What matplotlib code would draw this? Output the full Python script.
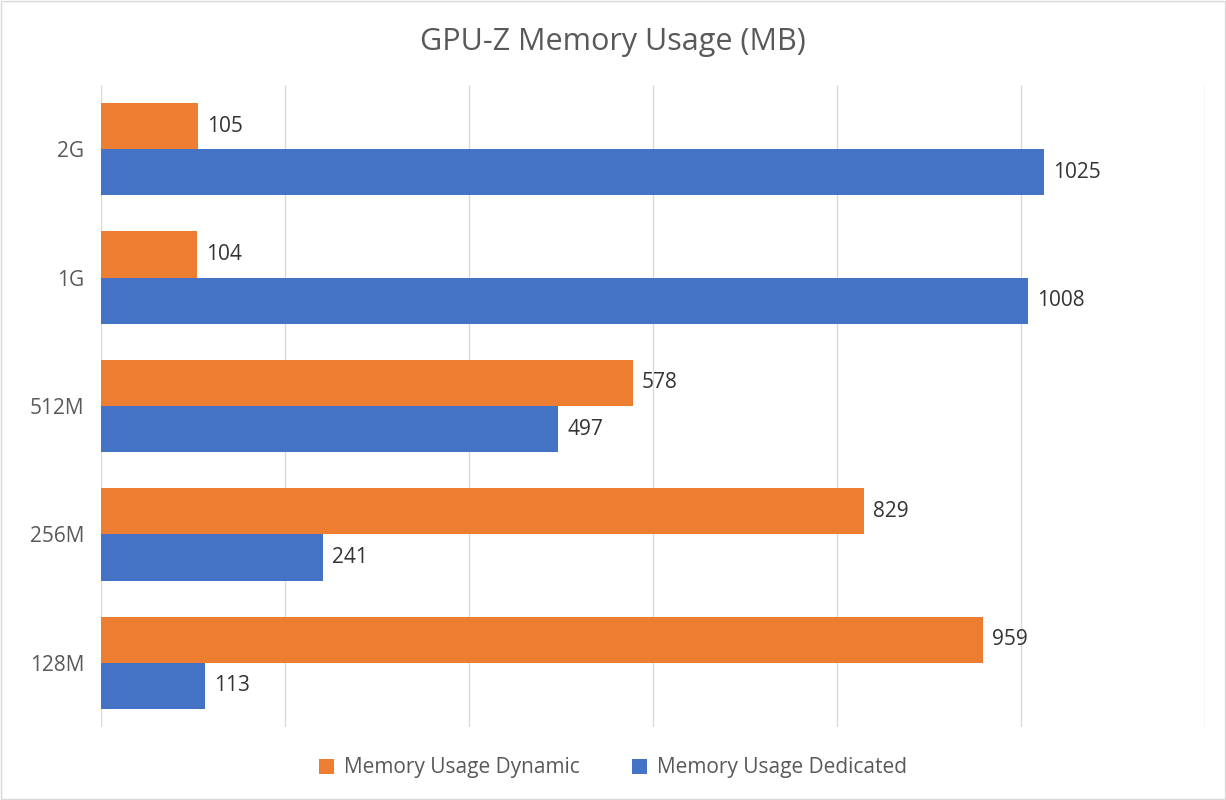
import matplotlib
matplotlib.use("Agg")
import matplotlib.pyplot as plt
import numpy as np

categories = ["128M", "256M", "512M", "1G", "2G"]
dynamic = [959, 829, 578, 104, 105]
dedicated = [113, 241, 497, 1008, 1025]
x_ticks = [0, 200, 400, 600, 800, 1000, 1200]

plt.rcParams["font.family"] = "Open Sans"
fig = plt.figure(figsize=(12.26, 8.0), dpi=100)
ax = fig.add_axes([101/1226, 1-727/800, (1205-101)/1226, (727-85)/800])

y = np.arange(len(categories))
h = 0.36
orange = "#ED7D31"
blue = "#4472C4"
b1 = ax.barh(y + h/2, dynamic, height=h, color=orange, label="Memory Usage Dynamic")
b2 = ax.barh(y - h/2, dedicated, height=h, color=blue, label="Memory Usage Dedicated")
for bars, vals in ((b1, dynamic), (b2, dedicated)):
    for b, v in zip(bars, vals):
        ax.text(b.get_width() + 10, b.get_y() + b.get_height()/2, str(v),
                va="center", ha="left", fontsize=15, color="#333333")

ax.set_xlim(0, 1200)
ax.set_ylim(-0.5, len(categories) - 0.5)
ax.set_xticks(x_ticks)
ax.set_xticklabels([])
ax.tick_params(axis="x", length=0)
ax.set_yticks(y)
ax.set_yticklabels(categories, fontsize=15, color="#595959")
ax.tick_params(axis="y", length=0, pad=12)
ax.grid(axis="x", color="#D9D9D9", linewidth=1)
ax.set_axisbelow(True)
for s in ax.spines.values():
    s.set_visible(False)

fig.text(0.5, 1-42/800, "GPU-Z Memory Usage (MB)", ha="center", va="center",
         fontsize=22, color="#595959")
handles = [b1, b2]
fig.legend(handles, [h_.get_label() for h_ in handles], loc="center",
           bbox_to_anchor=(0.5, 1-768/800), ncol=2, frameon=False,
           fontsize=15, handlelength=0.7, handleheight=0.7, columnspacing=2.5,
           handletextpad=0.5, labelcolor="#595959")
fig.patches.append(plt.Rectangle((0.001, 0.001), 0.998, 0.998, transform=fig.transFigure,
                                 fill=False, edgecolor="#D9D9D9", linewidth=1))
fig.savefig("out.png", dpi=100)
